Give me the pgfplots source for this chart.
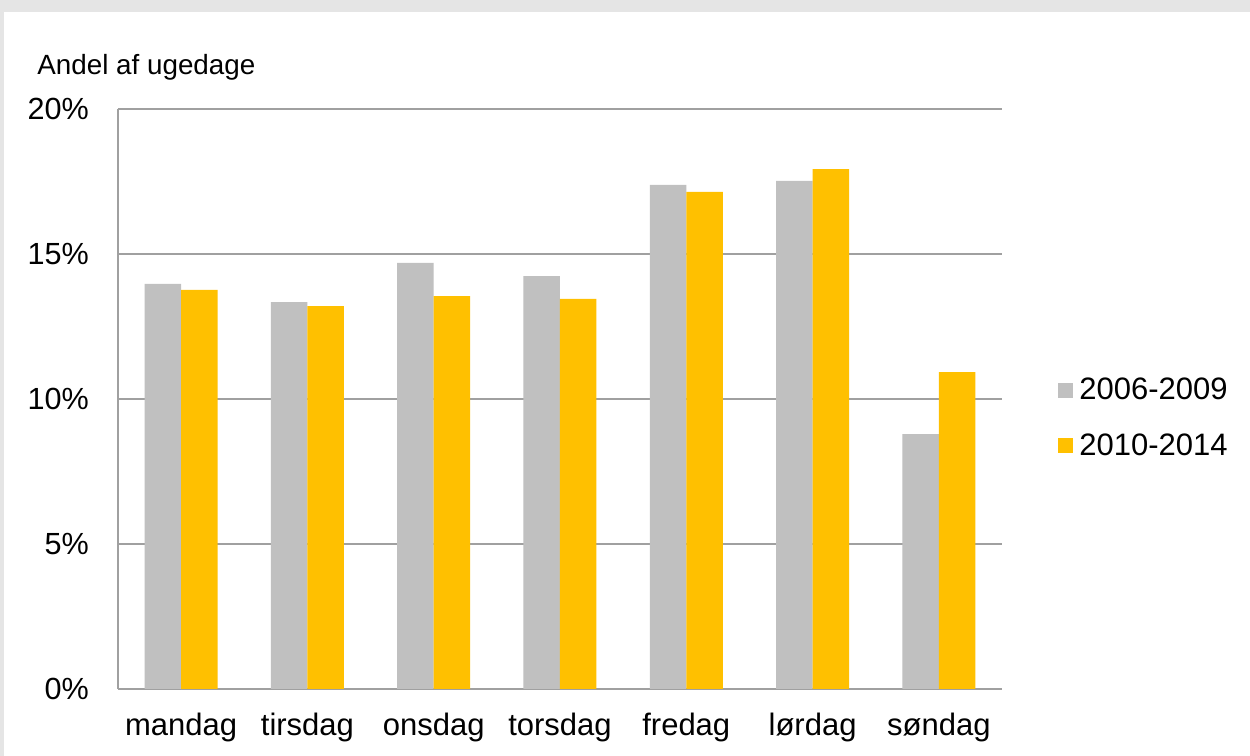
\documentclass[border=0pt]{standalone}
\usepackage{fontspec}
\setmainfont{Liberation Sans}
\usepackage{pgfplots}
\pgfplotsset{compat=1.18}
\definecolor{bgray}{HTML}{C0C0C0}
\definecolor{byellow}{HTML}{FFC000}
\definecolor{gridc}{HTML}{A0A0A0}
\definecolor{frame}{HTML}{E5E5E5}
\begin{document}
\begin{tikzpicture}[x=1pt,y=1pt]
\fill[frame] (0,0) rectangle (625,378);
\fill[white] (2,0) rectangle (625,372);
\node[anchor=base west, font=\fontsize{13.9}{16}\selectfont, inner sep=0pt] at (18.5,340.5) {Andel af ugedage};
\begin{axis}[
  at={(59pt,33.5pt)}, anchor=south west,
  scale only axis, width=442pt, height=290pt,
  ybar=0pt, bar width=18.25pt,
  xmin=-0.5, xmax=6.5, ymin=0, ymax=20,
  xtick={0,1,2,3,4,5,6},
  xticklabels={mandag,tirsdag,onsdag,torsdag,fredag,lørdag,søndag},
  ytick={0,5,10,15,20},
  yticklabels={0\%,5\%,10\%,15\%,20\%},
  major tick length=0pt,
  axis x line*=bottom, axis y line*=left,
  axis line style={gridc, line width=1pt},
  ymajorgrids, grid style={gridc, line width=1pt},
  tick label style={font=\fontsize{15.3}{18}\selectfont},
  xticklabel style={font=\fontsize{15.5}{18}\selectfont, yshift=-8.5pt},
  yticklabel style={xshift=-11pt},
  legend style={draw=none, fill=none, at={(1.0633,0.467)}, anchor=west,
    font=\fontsize{15.5}{18}\selectfont, row sep=11.5pt, inner sep=0pt,
    nodes={inner xsep=3pt}},
  legend cell align=left,
  legend image code/.code={\fill[#1] (0pt,-3.75pt) rectangle (7.5pt,3.75pt);},
]
\addplot[fill=bgray, draw=none] coordinates {(0,13.97) (1,13.34) (2,14.69) (3,14.24) (4,17.38) (5,17.52) (6,8.79)};
\addplot[fill=byellow, draw=none] coordinates {(0,13.76) (1,13.2) (2,13.55) (3,13.45) (4,17.14) (5,17.93) (6,10.93)};
\legend{2006-2009,2010-2014}
\end{axis}
\end{tikzpicture}
\end{document}
